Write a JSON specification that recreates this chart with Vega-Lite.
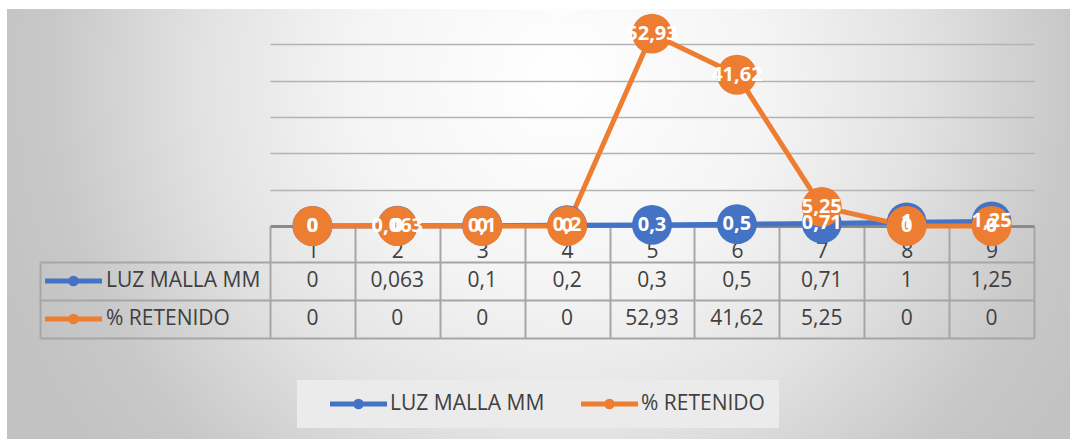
{
  "$schema": "https://vega.github.io/schema/vega-lite/v6.json",
  "width": 1063,
  "height": 430,
  "autosize": {"type": "none"},
  "padding": {"left": 7, "top": 9, "right": 0, "bottom": 0},
  "background": "white",
  "view": {
    "stroke": null,
    "fill": {
      "gradient": "radial",
      "x1": 0.52, "y1": 0.3645, "r1": 0,
      "x2": 0.52, "y2": 0.3645, "r2": 0.564,
      "stops": [
        {"offset": 0, "color": "#ffffff"},
        {"offset": 0.35, "color": "#f4f4f4"},
        {"offset": 0.6, "color": "#e2e2e2"},
        {"offset": 0.85, "color": "#c8c8c8"},
        {"offset": 1, "color": "#c2c2c2"}
      ]
    }
  },
  "config": {
    "font": "Open Sans",
    "locale": {"number": {"decimal": ",", "thousands": ".", "grouping": [3], "currency": ["", " €"]}}
  },
  "datasets": {
    "tabla": [
      {"cat": "1", "serie": "LUZ MALLA MM", "valor": 0},
      {"cat": "2", "serie": "LUZ MALLA MM", "valor": 0.063},
      {"cat": "3", "serie": "LUZ MALLA MM", "valor": 0.1},
      {"cat": "4", "serie": "LUZ MALLA MM", "valor": 0.2},
      {"cat": "5", "serie": "LUZ MALLA MM", "valor": 0.3},
      {"cat": "6", "serie": "LUZ MALLA MM", "valor": 0.5},
      {"cat": "7", "serie": "LUZ MALLA MM", "valor": 0.71},
      {"cat": "8", "serie": "LUZ MALLA MM", "valor": 1},
      {"cat": "9", "serie": "LUZ MALLA MM", "valor": 1.25},
      {"cat": "1", "serie": "% RETENIDO", "valor": 0},
      {"cat": "2", "serie": "% RETENIDO", "valor": 0},
      {"cat": "3", "serie": "% RETENIDO", "valor": 0},
      {"cat": "4", "serie": "% RETENIDO", "valor": 0},
      {"cat": "5", "serie": "% RETENIDO", "valor": 52.93},
      {"cat": "6", "serie": "% RETENIDO", "valor": 41.62},
      {"cat": "7", "serie": "% RETENIDO", "valor": 5.25},
      {"cat": "8", "serie": "% RETENIDO", "valor": 0},
      {"cat": "9", "serie": "% RETENIDO", "valor": 0}
    ]
  },
  "data": {"name": "tabla"},
  "layer": [
    {
      "layer": [
        {
          "mark": {"type": "line", "strokeWidth": 5, "strokeCap": "round", "strokeJoin": "round"},
          "encoding": {
            "x": {
              "field": "cat", "type": "ordinal", "bandPosition": 0.5,
              "scale": {"type": "band", "domain": ["1","2","3","4","5","6","7","8","9"], "range": [263, 1027], "paddingInner": 0, "paddingOuter": 0},
              "axis": {
                "orient": "bottom", "offset": -213, "title": null, "labelAngle": 0,
                "tickBand": "extent", "tickSize": 112, "tickColor": "#a6a6a6", "tickWidth": 2,
                "domainColor": "#8a8a8a", "domainWidth": 3,
                "labelPadding": -98, "labelFontSize": 21, "labelColor": "#404040", "labelFont": "Open Sans",
                "grid": false, "minExtent": 0, "maxExtent": 0
              }
            },
            "y": {
              "field": "valor", "type": "quantitative",
              "scale": {"domain": [0, 60], "range": [217, -1], "nice": false, "zero": false},
              "axis": {
                "orient": "left", "values": [10, 20, 30, 40, 50], "grid": true, "gridColor": "#b3b3b3", "gridWidth": 1.5,
                "domain": false, "ticks": false, "labels": false, "title": null, "minExtent": 0, "maxExtent": 0
              }
            },
            "color": {
              "field": "serie", "type": "nominal",
              "scale": {"domain": ["LUZ MALLA MM", "% RETENIDO"], "range": ["#4472C4", "#ED7D31"]},
              "legend": {
                "orient": "none", "legendX": 290, "legendY": 371, "direction": "horizontal", "title": null,
                "symbolType": "M-1,0 L1,0 M0.1,0 A0.1,0.1 0 1,1 -0.1,0 A0.1,0.1 0 1,1 0.1,0 Z",
                "symbolSize": 3249, "symbolStrokeWidth": 5, "symbolOpacity": 1,
                "clipHeight": 20, "padding": 14, "fillColor": "#ebebeb", "columnPadding": 17,
                "symbolOffset": 16.5, "labelOffset": 0.5, "labelFontSize": 21, "labelColor": "#404040",
                "labelFont": "Open Sans", "labelLimit": 300
              }
            }
          }
        },
        {
          "mark": {"type": "point", "filled": true, "size": 1590, "opacity": 1},
          "encoding": {
            "x": {"field": "cat", "type": "ordinal", "bandPosition": 0.5},
            "y": {"field": "valor", "type": "quantitative"},
            "color": {"field": "serie", "type": "nominal", "legend": null}
          }
        },
        {
          "mark": {"type": "point", "filled": false, "size": 10, "opacity": 0},
          "encoding": {
            "x": {"field": "cat", "type": "ordinal", "bandPosition": 0.5},
            "y": {"field": "valor", "type": "quantitative"},
            "stroke": {
              "field": "serie", "type": "nominal",
              "scale": {"domain": ["% RETENIDO", "LUZ MALLA MM"], "range": ["#ED7D31", "#4472C4"]},
              "legend": {
                "orient": "none", "legendX": 38, "legendY": 253, "direction": "vertical", "title": null,
                "values": ["LUZ MALLA MM", "% RETENIDO"],
                "symbolType": "M-1,0 L1,0 M0.1,0 A0.1,0.1 0 1,1 -0.1,0 A0.1,0.1 0 1,1 0.1,0 Z",
                "symbolSize": 3249, "symbolStrokeWidth": 5, "symbolOpacity": 1,
                "clipHeight": 38, "rowPadding": 0, "padding": 0,
                "symbolOffset": -2.5, "labelOffset": 1.5, "labelFontSize": 21, "labelColor": "#404040",
                "labelFont": "Open Sans", "labelLimit": 300
              }
            }
          }
        },
        {
          "mark": {"type": "text", "color": "white", "fontWeight": "bold", "fontSize": 20, "baseline": "middle", "align": "center"},
          "encoding": {
            "x": {"field": "cat", "type": "ordinal", "bandPosition": 0.5},
            "y": {"field": "valor", "type": "quantitative"},
            "text": {"field": "valor", "type": "quantitative", "format": "~g"}
          }
        }
      ]
    },
    {
      "mark": {"type": "text", "color": "#404040", "fontSize": 21, "baseline": "middle", "align": "center"},
      "encoding": {
        "x": {"field": "cat", "type": "ordinal", "bandPosition": 0.5},
        "y": {
          "field": "serie", "type": "nominal",
          "scale": {"type": "band", "domain": ["LUZ MALLA MM", "% RETENIDO"], "range": [253, 329], "paddingInner": 0, "paddingOuter": 0},
          "axis": {
            "orient": "left", "offset": -33, "title": null, "labels": false, "grid": false,
            "domain": true, "domainColor": "#a6a6a6", "domainWidth": 2,
            "ticks": true, "tickBand": "extent", "tickSize": -994, "tickColor": "#a6a6a6", "tickWidth": 2,
            "minExtent": 0, "maxExtent": 0
          }
        },
        "text": {"field": "valor", "type": "quantitative", "format": "~g"}
      }
    }
  ],
  "resolve": {"scale": {"y": "independent"}, "axis": {"y": "independent"}}
}
